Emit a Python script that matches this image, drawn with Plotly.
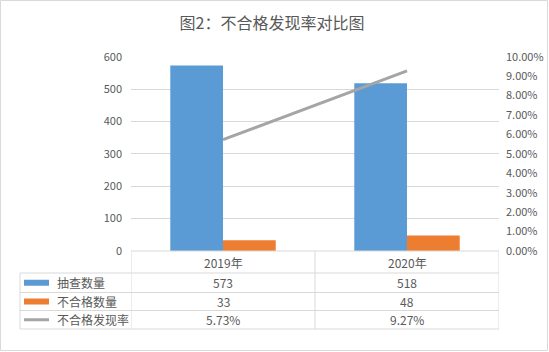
import plotly.graph_objects as go

categories = ["2019年", "2020年"]
sample_counts = [573, 518]
fail_counts = [33, 48]
fail_rates = [0.0573, 0.0927]
series_names = ["抽查数量", "不合格数量", "不合格发现率"]
title_text = "图2：不合格发现率对比图"

W, H = 549, 352
BLUE, ORANGE, GRAY = "#5B9BD5", "#ED7D31", "#A5A5A5"
GRID = "#D9D9D9"
TXT = "#595959"
FONT = "Noto Sans CJK SC"

def px(x):
    return x / W

def py(y):
    return 1 - y / H

x_left, x_right = 131, 499
y_top, y_bot = 56.7, 251

fig = go.Figure()
fig.add_trace(go.Bar(x=categories, y=sample_counts, name=series_names[0],
                     marker=dict(color=BLUE, line=dict(width=0)), yaxis="y"))
fig.add_trace(go.Bar(x=categories, y=fail_counts, name=series_names[1],
                     marker=dict(color=ORANGE, line=dict(width=0)), yaxis="y"))
fig.add_trace(go.Scatter(x=categories, y=fail_rates, name=series_names[2],
                         mode="lines", line=dict(color=GRAY, width=3), yaxis="y2"))

shapes = []
annotations = []

# outer border
shapes.append(dict(type="rect", xref="paper", yref="paper",
                   x0=px(0.5), x1=px(547.5), y0=py(0.5), y1=py(350.5),
                   line=dict(color=GRID, width=1)))

# data table
row_y = [251, 273, 292.5, 310.5, 329]
tbl_left = 20
line_style = dict(color=GRID, width=1)
shapes.append(dict(type="line", xref="x", yref="paper", x0=-0.5, x1=1.5,
                   y0=py(row_y[0]), y1=py(row_y[0]), line=line_style))
for ry in row_y[1:]:
    shapes.append(dict(type="line", xref="paper", yref="paper", x0=px(tbl_left), x1=px(x_right),
                       y0=py(ry), y1=py(ry), line=line_style))
shapes.append(dict(type="line", xref="paper", yref="paper", x0=px(tbl_left), x1=px(tbl_left),
                   y0=py(row_y[1]), y1=py(row_y[-1]), line=line_style))
for xv in [-0.5, 0.5, 1.5]:
    shapes.append(dict(type="line", xref="x", yref="paper", x0=xv, x1=xv,
                       y0=py(row_y[0]), y1=py(row_y[-1]), line=line_style))

for c in categories:
    annotations.append(dict(x=c, xref="x", y=py((row_y[0] + row_y[1]) / 2), yref="paper",
                            text=c, showarrow=False, font=dict(size=12, color=TXT, family=FONT),
                            xanchor="center", yanchor="middle"))

rows = [
    (series_names[0], [str(v) for v in sample_counts], BLUE, "bar"),
    (series_names[1], [str(v) for v in fail_counts], ORANGE, "bar"),
    (series_names[2], [f"{v*100:.2f}%" for v in fail_rates], GRAY, "line"),
]
for i, (name, vals, col, kind) in enumerate(rows):
    y0r, y1r = row_y[i + 1], row_y[i + 2]
    ym = (y0r + y1r) / 2
    if kind == "bar":
        shapes.append(dict(type="rect", xref="paper", yref="paper", x0=px(24), x1=px(49),
                           y0=py(ym - 3), y1=py(ym + 3), fillcolor=col, line=dict(width=0)))
    else:
        shapes.append(dict(type="line", xref="paper", yref="paper", x0=px(24), x1=px(49),
                           y0=py(ym), y1=py(ym), line=dict(color=col, width=3)))
    annotations.append(dict(x=px(55), xref="paper", y=py(ym), yref="paper", text=name,
                            showarrow=False, font=dict(size=12, color=TXT, family=FONT),
                            xanchor="left", yanchor="middle"))
    for c, v in zip(categories, vals):
        annotations.append(dict(x=c, xref="x", y=py(ym), yref="paper", text=v,
                                showarrow=False, font=dict(size=12, color=TXT, family=FONT),
                                xanchor="center", yanchor="middle"))

fig.update_layout(
    width=W, height=H,
    margin=dict(l=0, r=0, t=0, b=0, pad=0, autoexpand=False),
    paper_bgcolor="white", plot_bgcolor="white",
    barmode="group", bargap=0.427, bargroupgap=0,
    showlegend=False,
    font=dict(family=FONT, color=TXT, size=11),
    title=dict(text=title_text, x=272 / W, xanchor="center", y=py(23), yanchor="middle",
               font=dict(size=16, color=TXT, family=FONT)),
    xaxis=dict(domain=[px(x_left), px(x_right)], range=[-0.5, 1.5], type="category",
               showticklabels=False, showgrid=False, zeroline=False, showline=False, ticks="",
               automargin=False),
    yaxis=dict(domain=[py(y_bot), py(y_top)], range=[0, 600], dtick=100,
               showgrid=True, gridcolor=GRID, gridwidth=1, zeroline=False, showline=False,
               ticks="", ticklabelstandoff=8, automargin=False,
               tickfont=dict(size=11, color=TXT, family=FONT)),
    yaxis2=dict(overlaying="y", side="right", range=[0, 0.1], dtick=0.01, tickformat=".2%",
                showgrid=False, zeroline=False, showline=False, ticks="", automargin=False,
                ticklabelstandoff=6, tickfont=dict(size=11, color=TXT, family=FONT)),
    shapes=shapes,
    annotations=annotations,
    hovermode=False,
)

fig.write_html("out.html")
